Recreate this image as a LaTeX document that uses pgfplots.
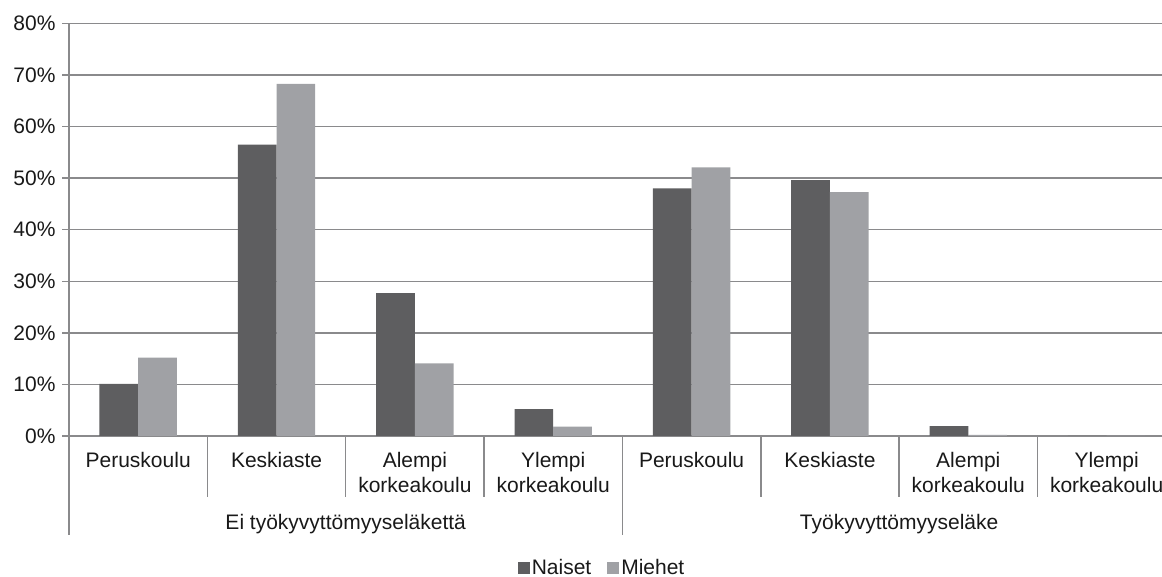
\documentclass[border=0pt]{standalone}
\usepackage{pgfplots}
\pgfplotsset{compat=1.18}
\usepackage{fontspec}
\setmainfont{Liberation Sans}
\definecolor{naiset}{RGB}{94,94,96}
\definecolor{miehet}{RGB}{160,161,165}
\definecolor{gridc}{RGB}{138,138,140}
\definecolor{txt}{RGB}{25,25,25}
\begin{document}
\begin{tikzpicture}[x=1pt,y=1pt]
\useasboundingbox (0,0) rectangle (1162,577);
\begin{axis}[
  at={(69pt,141pt)}, anchor=south west,
  scale only axis, width=1093pt, height=412.5pt,
  xmin=-0.5, xmax=7.4, ymin=0, ymax=80,
  ybar=0pt, bar width=38.7pt,
  axis lines*=left,
  axis line style={gridc, line width=1.5pt, -},
  clip=false,
  ymajorgrids, grid style={gridc, line width=1.5pt},
  ytick={0,10,...,80},
  yticklabels={0\%,10\%,20\%,30\%,40\%,50\%,60\%,70\%,80\%},
  ytick style={gridc, line width=1.5pt},
  tick align=outside, major tick length=7pt,
  yticklabel style={font=\fontsize{21}{25}\selectfont, text=txt, xshift=-3pt},
  xtick={0,...,7},
  xticklabels={Peruskoulu,Keskiaste,Alempi\\korkeakoulu,Ylempi\\korkeakoulu,Peruskoulu,Keskiaste,Alempi\\korkeakoulu,Ylempi\\korkeakoulu},
  xtick style={draw=none},
  xticklabel style={font=\fontsize{21}{25}\selectfont, text=txt, anchor=base, text width=135pt, align=center, yshift=-25pt},
  legend columns=2,
  legend style={at={(0.4877,-0.319)}, anchor=center, draw=none, font=\fontsize{21}{25}\selectfont, text=txt,
    /tikz/every even column/.append style={column sep=14pt}},
  legend image code/.code={\fill[#1] (0pt,-6pt) rectangle (12pt,6pt);},
]
\addplot[fill=naiset, draw=none] coordinates {(0,10.1) (1,56.5) (2,27.7) (3,5.2) (4,48.0) (5,49.6) (6,1.9) (7,0)};
\addplot[fill=miehet, draw=none] coordinates {(0,15.2) (1,68.3) (2,14.1) (3,1.8) (4,52.1) (5,47.3) (6,0.2) (7,0)};
\legend{Naiset,Miehet}
\pgfplotsinvokeforeach{0.5,1.5,2.5,4.5,5.5,6.5}{
  \draw[gridc, line width=1.5pt] (axis cs:#1,0) -- ([yshift=-61.5pt]axis cs:#1,0);
}
\pgfplotsinvokeforeach{-0.5,3.5}{
  \draw[gridc, line width=1.5pt] (axis cs:#1,0) -- ([yshift=-99pt]axis cs:#1,0);
}
\node[anchor=base, font=\fontsize{21}{25}\selectfont, text=txt] at ([yshift=-93.5pt]axis cs:1.5,0) {Ei työkyvyttömyyseläkettä};
\node[anchor=base, font=\fontsize{21}{25}\selectfont, text=txt] at ([yshift=-93.5pt]axis cs:5.5,0) {Työkyvyttömyyseläke};
\end{axis}
\end{tikzpicture}
\end{document}
